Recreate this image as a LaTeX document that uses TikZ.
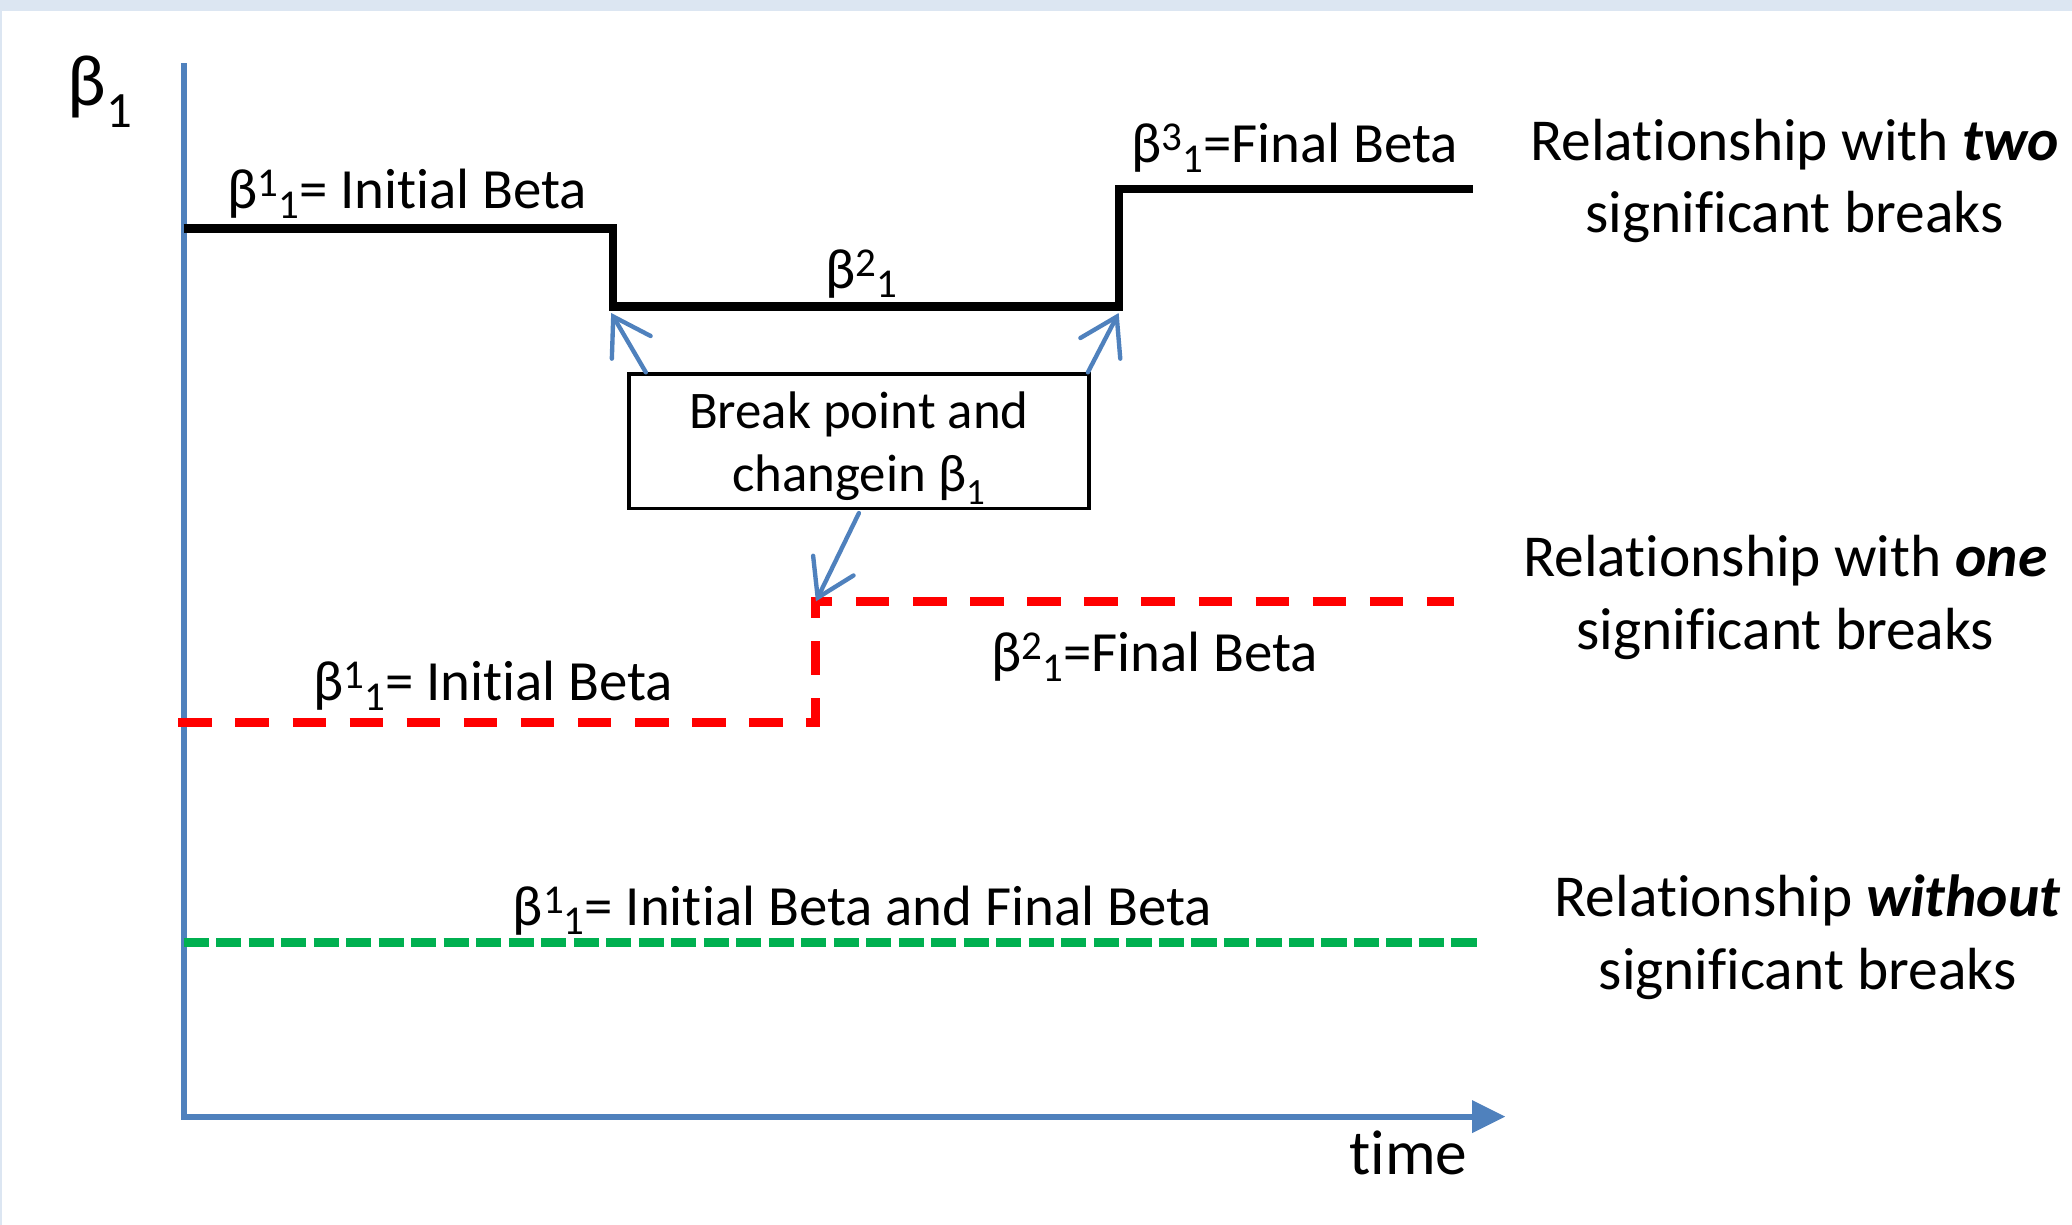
\documentclass[tikz,border=0pt]{standalone}
\usepackage{fontspec}
\setmainfont{Carlito}[Ligatures={NoCommon}]
\usetikzlibrary{arrows.meta,calc}
\definecolor{axisblue}{HTML}{4F81BD}
\definecolor{bandblue}{HTML}{DCE6F2}
\definecolor{dred}{HTML}{FF0000}
\definecolor{dgreen}{HTML}{00B050}
\newcommand\bb[2]{β\raisebox{9pt}{\fontsize{31}{31}\selectfont #1}\raisebox{-7.5pt}{\fontsize{31}{31}\selectfont #2}}
\begin{document}
\begin{tikzpicture}[x=1pt,y=-1pt,
  lbl/.style={inner sep=0pt, font=\fontsize{43}{50}\selectfont, anchor=base west},
  rel/.style={inner sep=0pt, font=\fontsize{45}{55}\selectfont, align=center},
  axisline/.style={draw=axisblue, line width=4.5pt},
  pointer/.style={draw=axisblue, line width=3.3pt, line cap=round,
    -{Straight Barb[length=27pt,width=34pt,line cap=round]}},
  twobreak/.style={draw=black, line width=6.3pt},
  onebreak/.style={draw=dred, line width=7pt, dash pattern=on 25.3pt off 17.9pt},
  nobreak/.style={draw=dgreen, line width=6.8pt, dash pattern=on 19pt off 5.6pt},
  boxstyle/.style={draw=black, line width=2.5pt, fill=white, inner sep=0pt,
    minimum width=348pt, minimum height=102pt},
  boxtext/.style={inner sep=0pt, align=center, font=\fontsize{40}{48}\selectfont}]
\useasboundingbox (0,0) rectangle (1568,927);
\fill[white] (0,0) rectangle (1568,927);
\fill[bandblue] (0,0) rectangle (1568,8);
\draw[bandblue, line width=1.5pt] (0.75,8) -- (0.75,927);

% axes
\coordinate (ytop) at (139,48);
\coordinate (o) at (139,845);
\coordinate (xend) at (1118,845);
\draw[axisline, line join=miter] (ytop) -- (o) -- (xend);
\fill[axisblue] (1114,832.5) -- (1139,845) -- (1114,857.5) -- cycle;
\node[inner sep=0pt, font=\fontsize{55}{58}\selectfont, anchor=base west] (ylab) at (51,80) {β\textsubscript{1}};
\node[inner sep=0pt, font=\fontsize{48}{50}\selectfont, anchor=base west] (tlab) at (1021,889) {time};

% two breaks
\coordinate (b0) at (139,173);
\coordinate (b1) at (464,173);
\coordinate (b2) at (464,232);
\coordinate (b3) at (847,232);
\coordinate (b4) at (847,143);
\coordinate (b5) at (1115,143);
\draw[twobreak] (b0) -- (b1) -- (b2) -- (b3) -- (b4) -- (b5);

% one break
\coordinate (r0) at (135,547);
\coordinate (r1) at (617,547);
\coordinate (r2) at (617,455);
\coordinate (r3) at (1100,455);
\draw[onebreak] (r0) -- (r1) -- (r2) -- (r3);

% no break
\coordinate (g0) at (139,713);
\coordinate (g1) at (1122,713);
\draw[nobreak] (g0) -- (g1);

% labels
\node[lbl] (l1) at (172,158) {\bb{1}{1}= Initial Beta};
\node[lbl, anchor=base] (l2) at (652,218) {\bb{2}{1}};
\node[lbl] (l3) at (856,123) {\bb{3}{1}=Final Beta};
\node[lbl] (l4) at (237,530) {\bb{1}{1}= Initial Beta};
\node[lbl] (l5) at (750,508) {\bb{2}{1}=Final Beta};
\node[lbl] (l6) at (388,700) {\bb{1}{1}= Initial Beta and Final Beta};

\node[rel] (rel1) at (1358,137) {Relationship with \textbf{\textit{two}}\\significant breaks};
\node[rel] (rel2) at (1351,452) {Relationship with \textbf{\textit{one}}\\significant breaks};
\node[rel] (rel3) at (1368,709) {Relationship \textbf{\textit{without}}\\significant breaks};

% box and pointers
\node[boxstyle] (box) at (650,334) {};
\node[boxtext] (boxlbl) at ($(box.center)+(0,5)$) {Break point and\\changein β\textsubscript{1}};
\draw[pointer, shorten >=1pt] ($(box.north west)+(14,0)$) -- (462,236);
\draw[pointer, shorten >=1pt] ($(box.north east)+(-2,0)$) -- (847,236);
\draw[pointer, shorten >=1pt] ($(box.south)+(0,2)$) -- (617,456);
\end{tikzpicture}
\end{document}
